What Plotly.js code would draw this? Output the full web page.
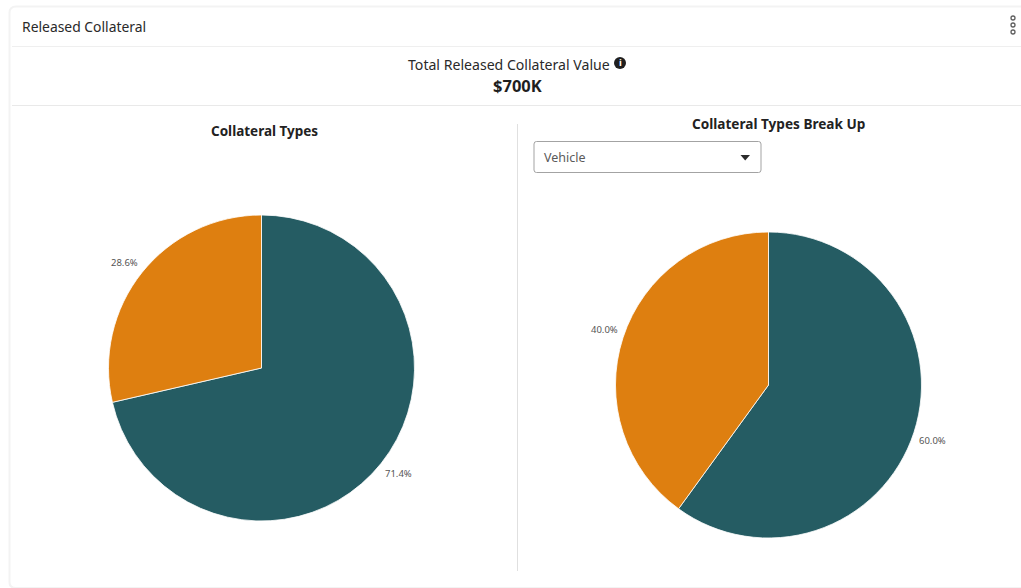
<!DOCTYPE html>
<html>
<head>
<meta charset="utf-8">
<script src="https://cdn.plot.ly/plotly-3.0.1.min.js"></script>
<style>html,body{margin:0;padding:0;background:#fff;overflow:hidden}#c{width:1021px;height:588px}</style>
</head>
<body>
<div id="c"></div>
<script>
var typeLabels = ["Type A", "Type B"];
var typeValues = [71.4, 28.6];
var breakLabels = ["Subtype A", "Subtype B"];
var breakValues = [60, 40];
var sliceColors = ["#255c63", "#de7f10"];
var cardTitle = "Released Collateral";
var kpiTitle = "Total Released Collateral Value";
var kpiValue = "$700K";
var leftTitle = "Collateral Types";
var rightTitle = "Collateral Types Break Up";
var dropdownValue = "Vehicle";

var W = 1021, H = 588;
var FONT = '"Noto Sans", "Open Sans", sans-serif';
function X(p){return p/W;}
function Y(p){return 1-p/H;}
function dom(cx, cy, r){return {x:[X(cx-r),X(cx+r)], y:[Y(cy+r),Y(cy-r)]};}
function pie(labels, values, d){
  return {type:"pie", labels:labels, values:values, domain:d, sort:false, direction:"clockwise", rotation:0,
    marker:{colors:sliceColors, line:{color:"#ffffff", width:0.8}},
    textinfo:"none", automargin:false, showlegend:false};
}
function txt(t, x, y, size, color, weight, anchor){
  return {text:t, xref:"paper", yref:"paper", x:X(x), y:Y(y), showarrow:false, xanchor:anchor||"center", yanchor:"middle",
    font:{family:FONT, size:size, color:color, weight:weight||400}};
}
/* percent labels: the text box touches a ring just outside the rim at the slice's mid-angle */
function sliceLabels(values, cx, cy, r){
  var total = values.reduce(function(a,b){return a+b;},0), acc = 0;
  return values.map(function(v){
    var mid = (acc + v/2)/total*2*Math.PI; acc += v;
    var s = Math.sin(mid), c = Math.cos(mid);
    var px = cx + r*s + (s>=0?13:-13), py = cy - r*c - (c>=0?6.5:-6.5);
    return txt((v/total*100).toFixed(1)+"%", px, py, 9.5, "#555555", 400);
  });
}
function line(x0,y0,x1,y1,c,w){
  return {type:"line", xref:"paper", yref:"paper", x0:X(x0), y0:Y(y0), x1:X(x1), y1:Y(y1), line:{color:c, width:w||1}};
}
function ring(cx,cy,r,c,fill,w){
  return {type:"circle", xref:"paper", yref:"paper", x0:X(cx-r), x1:X(cx+r), y0:Y(cy+r), y1:Y(cy-r), line:{color:c,width:w}, fillcolor:fill};
}
function path(d,fill,c,w){
  return {type:"path", xref:"paper", yref:"paper", path:d, fillcolor:fill, line:{color:c||"rgba(0,0,0,0)", width:w||0}};
}
function P(x,y){return X(x)+","+Y(y);}
function rrect(x0,y0,x1,y1,r){
  return "M"+P(x0+r,y0)+" L"+P(x1-r,y0)+" Q"+P(x1,y0)+" "+P(x1,y0+r)+" L"+P(x1,y1-r)+" Q"+P(x1,y1)+" "+P(x1-r,y1)+
         " L"+P(x0+r,y1)+" Q"+P(x0,y1)+" "+P(x0,y1-r)+" L"+P(x0,y0+r)+" Q"+P(x0,y0)+" "+P(x0+r,y0)+" Z";
}
var shapes = [
  path("M"+P(1030,6.5)+" L"+P(16,6.5)+" Q"+P(9.5,6.5)+" "+P(9.5,13)+" L"+P(9.5,582)+" Q"+P(9.5,588)+" "+P(16,588)+" L"+P(1030,588), "rgba(0,0,0,0)", "#f3f3f3", 2),
  line(12,46.5,1021,46.5,"#efefef",1),
  line(12,105.5,1021,105.5,"#e9e9e9",1),
  line(517.5,124,517.5,571,"#e0e0e0",1),
  path(rrect(534,141.5,761,172.5,2.5), "#ffffff", "#a3a3a3", 1),
  path("M"+P(740.5,155)+" L"+P(750,155)+" L"+P(745.2,160.5)+" Z", "#2b2b2b"),
  ring(620,63,6,"#1f1f1f","#1f1f1f",0),
  ring(1013,18,2,"#5f5f5f","rgba(0,0,0,0)",1.3),
  ring(1013,25,2,"#5f5f5f","rgba(0,0,0,0)",1.3),
  ring(1013,32,2,"#5f5f5f","rgba(0,0,0,0)",1.3)
];
var annotations = [
  txt(cardTitle, 19.5, 27, 13.9, "#2a2a2a", 400, "left"),
  txt(kpiTitle, 509, 64.5, 14.1, "#2a2a2a", 400),
  txt(kpiValue, 517.5, 85, 16.5, "#1f1f1f", 700),
  txt(leftTitle, 264.5, 131, 13.5, "#222222", 700),
  txt(rightTitle, 778.5, 123.5, 13.6, "#222222", 700),
  txt(dropdownValue, 542, 157.5, 12.5, "#5a5a5a", 400, "left"),
  txt("i", 620, 63, 9.5, "#ffffff", 700)
].concat(sliceLabels(typeValues, 261.5, 368, 158.5), sliceLabels(breakValues, 768.5, 385, 158.5));
var data = [
  pie(typeLabels, typeValues, dom(261.5, 368, 153)),
  pie(breakLabels, breakValues, dom(768.5, 385, 153))
];
var layout = {width:W, height:H, margin:{l:0,r:0,t:0,b:0}, paper_bgcolor:"#ffffff", plot_bgcolor:"#ffffff",
  font:{family:FONT}, shapes:shapes, annotations:annotations, showlegend:false};
Plotly.newPlot("c", data, layout, {displayModeBar:false, responsive:false});
</script>
</body>
</html>
